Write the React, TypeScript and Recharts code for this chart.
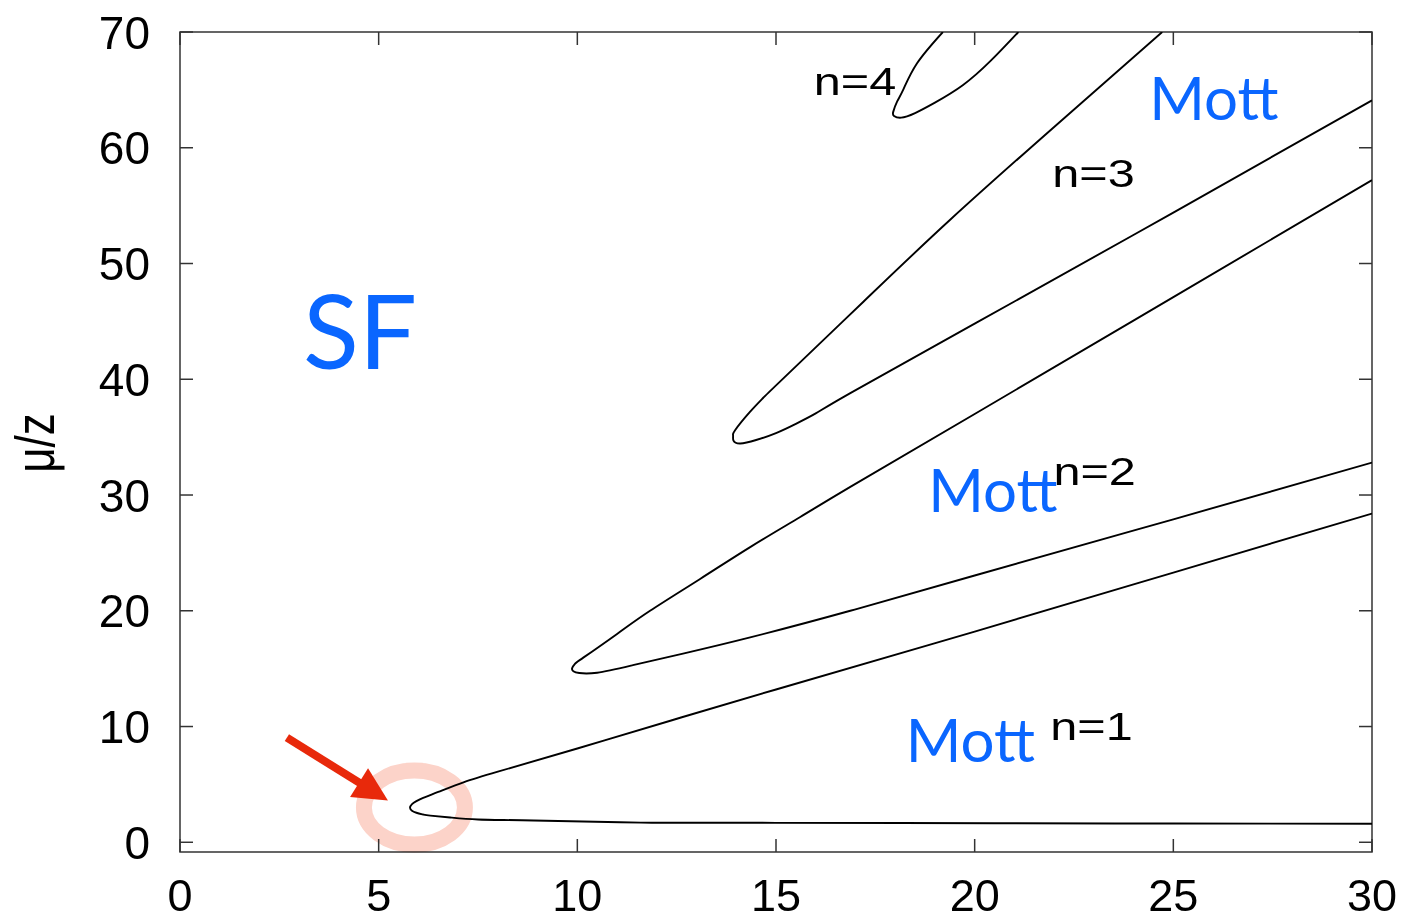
import React from "react";
import { LineChart, Line, XAxis, YAxis, ReferenceDot, ReferenceArea } from "recharts";

// Mott lobe boundaries, traced lower branch (right -> tip) then upper branch (tip -> right)
const lobe1 = [
  [30, 1.6], [25, 1.62], [20.5, 1.65], [15, 1.68], [11.6, 1.7], [8.9, 1.88],
  [7.5, 1.97], [6.8, 2.14], [6.3, 2.3], [6.12, 2.4], [5.95, 2.55], [5.83, 2.75],
  [5.79, 3.0], [5.84, 3.3], [5.95, 3.55], [6.12, 3.84], [6.5, 4.35], [7.15, 5.2],
  [8, 6.1], [10, 8.1], [12.34, 10.5], [15, 13.2], [20, 18.2], [25, 23.3], [30, 28.4],
];
const lobe2 = [
  [30, 32.8], [25, 27.9], [20, 23.05], [16.87, 20.0], [14.35, 17.7], [12.66, 16.3],
  [11.4, 15.3], [10.5, 14.65], [10.05, 14.62], [9.9, 14.78], [9.87, 15.05], [9.95, 15.45],
  [10.15, 15.95], [11.0, 18.0], [11.83, 20.0], [13.09, 22.75], [14.35, 25.5], [15.61, 28.1],
  [16.87, 30.7], [20, 37.0], [25, 47.1], [30, 57.2],
];
const lobe3 = [
  [30, 64.1], [25, 54.4], [20, 44.8], [16.87, 38.8], [16.0, 37.05], [15.5, 36.15],
  [15.0, 35.35], [14.5, 34.75], [14.1, 34.45], [13.93, 34.7], [13.92, 35.15], [13.97, 35.6],
  [14.35, 37.2], [14.68, 38.4], [15.1, 39.8], [17.2, 46.7], [19.39, 53.8], [22, 61.8],
  [24.72, 70],
];
const lobe4 = [
  [21.1, 70], [20.4, 67.5], [19.7, 65.4], [19.0, 63.9], [18.5, 63.0], [18.15, 62.6],
  [17.97, 62.75], [17.95, 63.1], [18.05, 64.0], [18.2, 65.0], [18.55, 67.3], [19.2, 70],
];
const lobes = [lobe1, lobe2, lobe3, lobe4];

const xTicks = [0, 5, 10, 15, 20, 25, 30];
const yTicks = [0, 10, 20, 30, 40, 50, 60, 70];
const xDomain = [0, 30];
const yDomain = [-0.84, 70];

// phase labels (blue) and lobe occupation labels, anchored in data units
const phaseLabels = [
  { text: "SF", x: 4.53, y: 40.9, big: true },
  { text: "Mott", x: 26.02, y: 62.4 },
  { text: "Mott", x: 20.46, y: 28.5 },
  { text: "Mott", x: 19.89, y: 6.9 },
];
const lobeLabels = [
  { text: "n=4", x: 16.99, y: 64.55 },
  { text: "n=3", x: 22.99, y: 56.6 },
  { text: "n=2", x: 23.02, y: 30.84 },
  { text: "n=1", x: 22.94, y: 8.8 },
];
const tipPoint = { x: 5.9, y: 3.0 };

// layout
const W = 1414;
const H = 921;
const Y_AXIS_W = 180;
const X_AXIS_H = 69;
const M_TOP = 32;
const M_RIGHT = 42;
const PLOT_LEFT = Y_AXIS_W;
const PLOT_RIGHT = W - M_RIGHT;
const PLOT_TOP = M_TOP;
const PLOT_BOTTOM = H - X_AXIS_H;
const TICK_LEN = 13;

const FRAME = "#333";
const TICK_FONT = "'Liberation Sans', Arial, Helvetica, sans-serif";
const BLUE = "#0a66ff";

// bottom tick: label + inward marks on bottom and top edges (gnuplot mirror tics)
const BottomTick = (props: any) => {
  const { x, payload } = props;
  return (
    <g>
      <line x1={x} x2={x} y1={PLOT_BOTTOM} y2={PLOT_BOTTOM - TICK_LEN} stroke={FRAME} strokeWidth={1.5} />
      <line x1={x} x2={x} y1={PLOT_TOP} y2={PLOT_TOP + TICK_LEN} stroke={FRAME} strokeWidth={1.5} />
      <text x={x} y={PLOT_BOTTOM + 59} textAnchor="middle" fontFamily={TICK_FONT} fontSize={45} fill="#000">
        {payload.value}
      </text>
    </g>
  );
};

const LeftTick = (props: any) => {
  const { y, payload } = props;
  return (
    <g>
      <line x1={PLOT_LEFT} x2={PLOT_LEFT + TICK_LEN} y1={y} y2={y} stroke={FRAME} strokeWidth={1.5} />
      <line x1={PLOT_RIGHT} x2={PLOT_RIGHT - TICK_LEN} y1={y} y2={y} stroke={FRAME} strokeWidth={1.5} />
      <text x={PLOT_LEFT - 30} y={y} dy="0.36em" textAnchor="end" fontFamily={TICK_FONT} fontSize={46} fill="#000">
        {payload.value}
      </text>
    </g>
  );
};

export default function App() {
  return (
    <div style={{ position: "absolute", left: 0, top: 0, background: "#fff" }}>
      <LineChart width={W} height={H} margin={{ top: M_TOP, right: M_RIGHT, left: 0, bottom: 0 }}>
        <XAxis
          dataKey="x"
          type="number"
          domain={xDomain}
          ticks={xTicks}
          allowDataOverflow
          height={X_AXIS_H}
          tickLine={false}
          axisLine={false}
          tick={<BottomTick />}
        />
        <YAxis
          type="number"
          domain={yDomain}
          ticks={yTicks}
          allowDataOverflow
          width={Y_AXIS_W}
          tickLine={false}
          axisLine={false}
          tick={<LeftTick />}
          label={{
            content: () => (
              <text
                transform={`translate(54, 443) scale(1.28, 1) rotate(-90)`}
                textAnchor="middle"
                fontFamily={TICK_FONT}
                fontSize={44}
                fill="#000"
              >
                μ/z
              </text>
            ),
          }}
        />

        <ReferenceArea
          x1={xDomain[0]}
          x2={xDomain[1]}
          y1={yDomain[0]}
          y2={yDomain[1]}
          fill="none"
          fillOpacity={0}
          stroke={FRAME}
          strokeWidth={1.5}
          strokeOpacity={1}
        />

        <ReferenceDot
          x={tipPoint.x}
          y={tipPoint.y}
          r={1}
          shape={(p: any) => (
            <ellipse
              cx={p.cx}
              cy={p.cy}
              rx={50.5}
              ry={37}
              fill="none"
              stroke="#fcd3c9"
              strokeWidth={16}
              style={{ mixBlendMode: "multiply" }}
            />
          )}
        />

        {lobes.map((lobe, i) => (
          <Line
            key={i}
            data={lobe.map(([x, y]) => ({ x, y }))}
            dataKey="y"
            type="natural"
            stroke="#000"
            strokeWidth={1.9}
            dot={false}
            activeDot={false}
            isAnimationActive={false}
          />
        ))}

        <ReferenceDot
          x={tipPoint.x}
          y={tipPoint.y}
          r={1}
          shape={(p: any) => {
            const tx = p.cx - 26.5;
            const ty = p.cy - 7;
            const ux = 0.849;
            const uy = 0.529;
            const bx = tx - 34 * ux;
            const by = ty - 34 * uy;
            return (
              <g>
                <line x1={tx - 119 * ux} y1={ty - 119 * uy} x2={bx + 4 * ux} y2={by + 4 * uy} stroke="#e8290b" strokeWidth={8} />
                <polygon
                  points={`${tx},${ty} ${bx - 17 * uy},${by + 17 * ux} ${bx + 17 * uy},${by - 17 * ux}`}
                  fill="#e8290b"
                />
              </g>
            );
          }}
        />

        {phaseLabels.map((l, i) => (
          <ReferenceDot
            key={"p" + i}
            x={l.x}
            y={l.y}
            r={1}
            shape={(p: any) => (
              <text
                x={p.cx}
                y={p.cy}
                textAnchor="middle"
                fontFamily="Lato, 'Open Sans', sans-serif"
                fontSize={l.big ? 103 : 60}
                fill={BLUE}
              >
                {l.text}
              </text>
            )}
          />
        ))}

        {lobeLabels.map((l, i) => (
          <ReferenceDot
            key={"n" + i}
            x={l.x}
            y={l.y}
            r={1}
            shape={(p: any) => (
              <text
                transform={`translate(${p.cx}, ${p.cy}) scale(1.28, 1)`}
                textAnchor="middle"
                fontFamily={TICK_FONT}
                fontSize={38}
                fill="#000"
              >
                {l.text}
              </text>
            )}
          />
        ))}
      </LineChart>
    </div>
  );
}
